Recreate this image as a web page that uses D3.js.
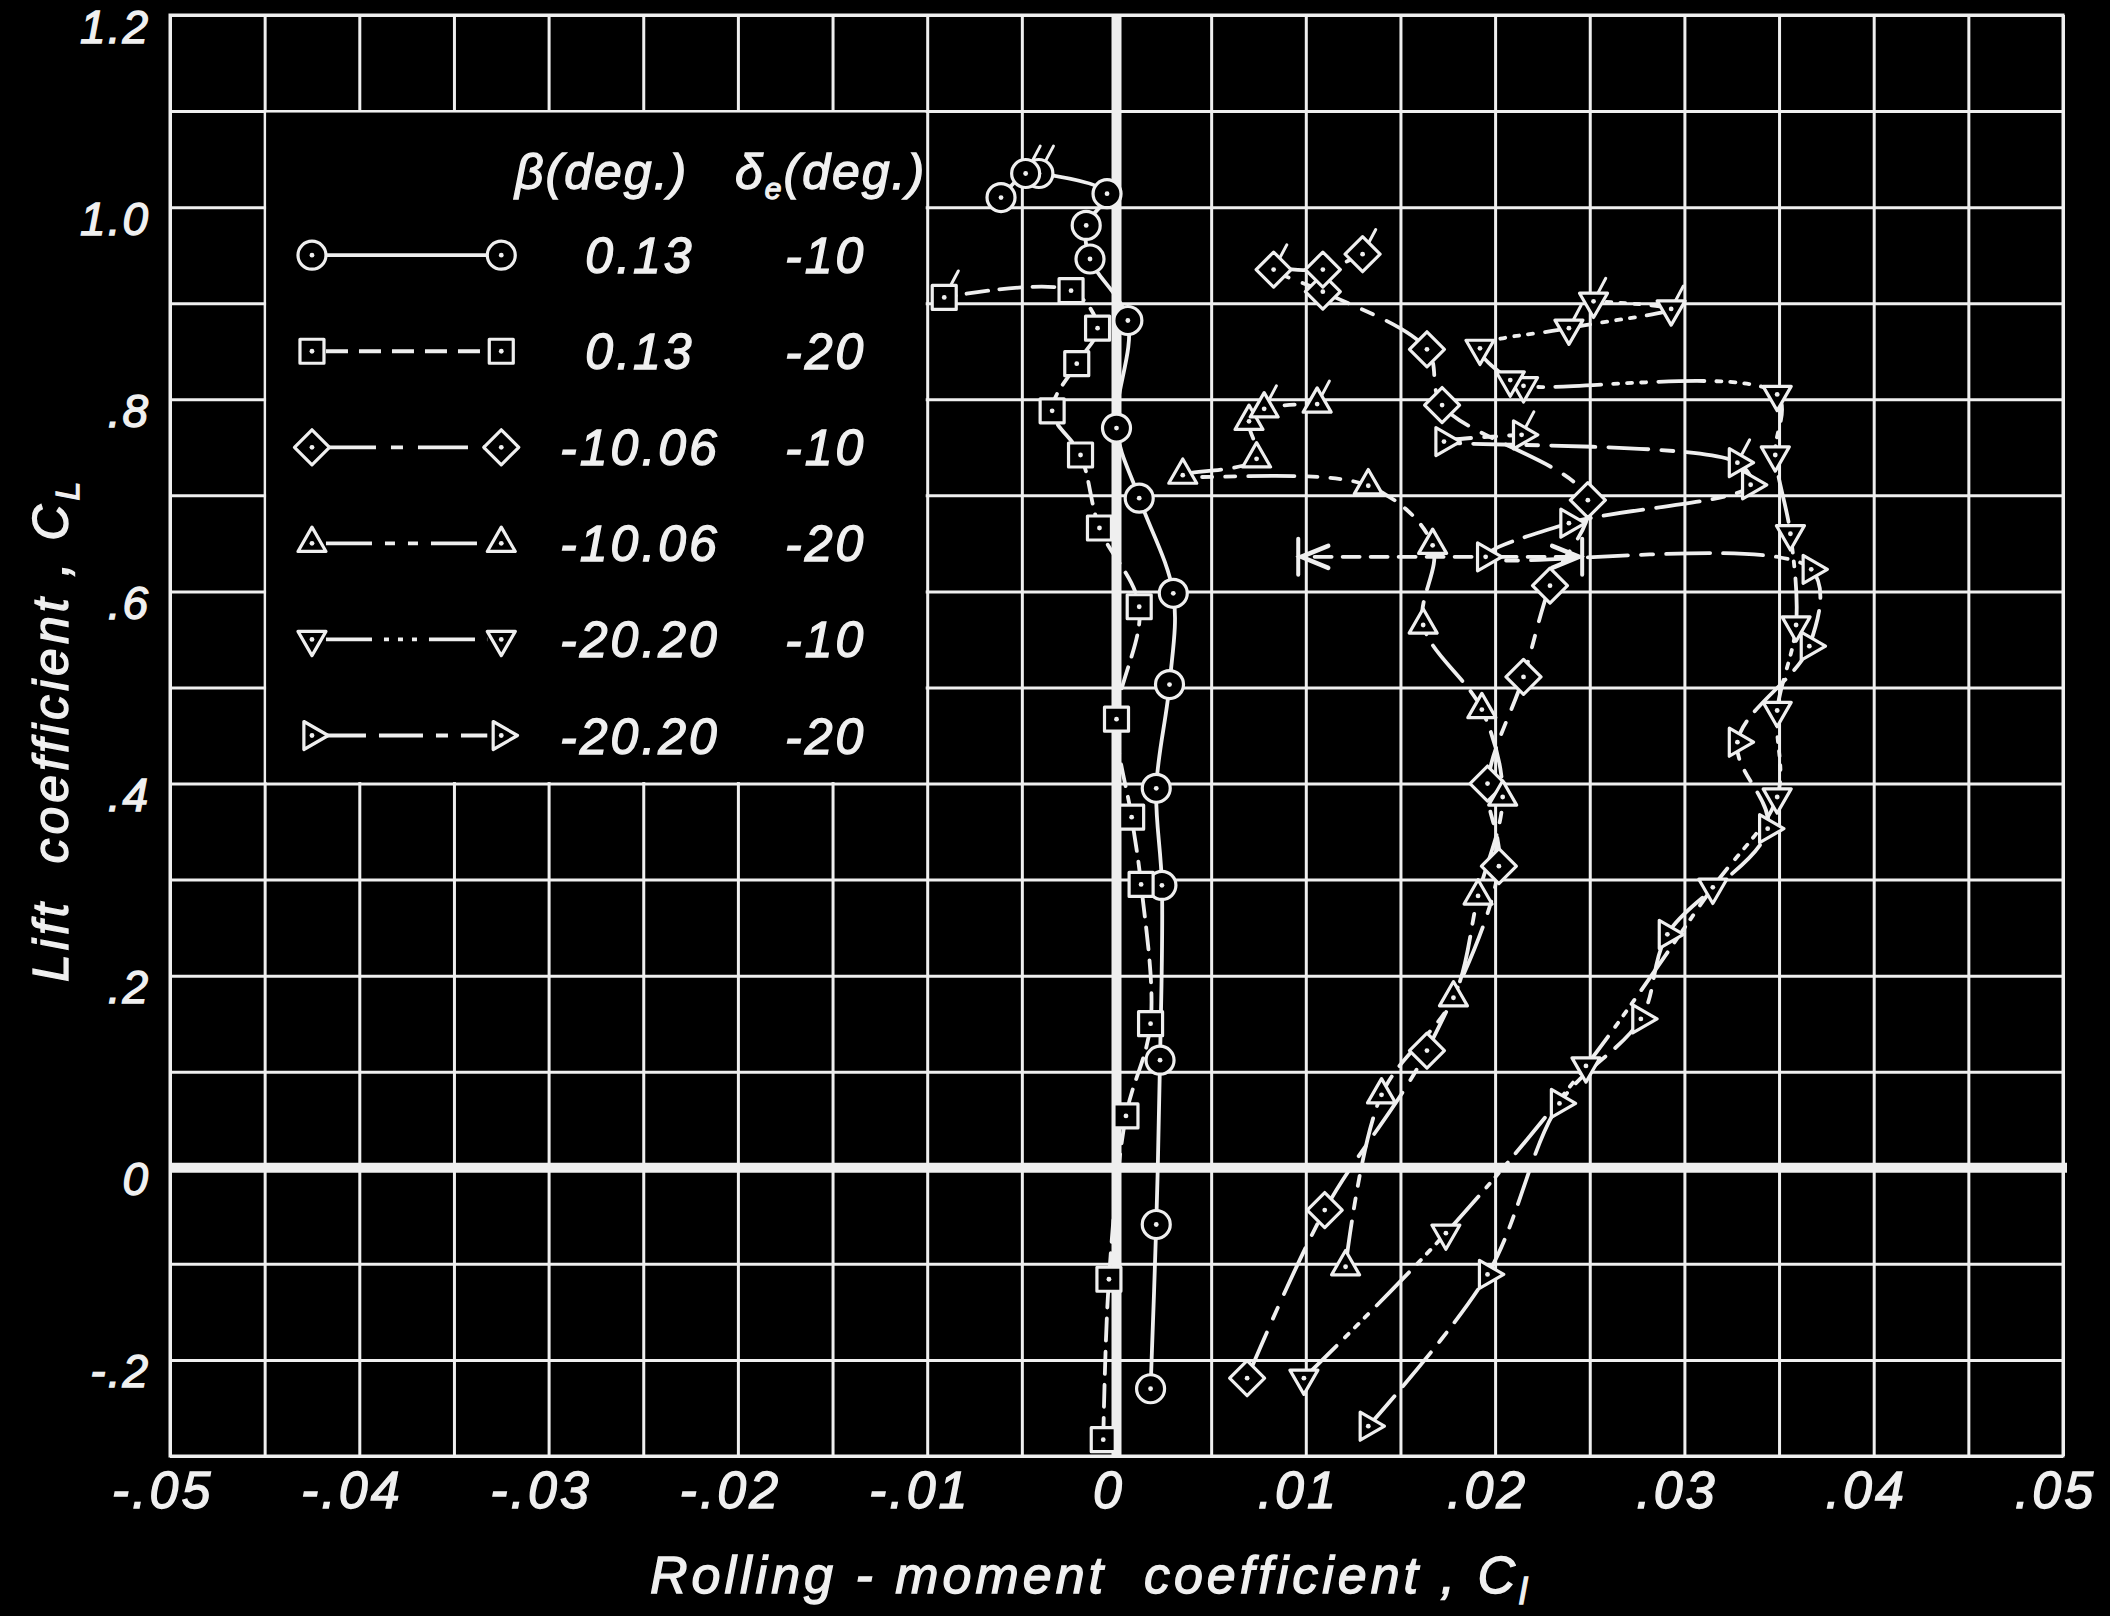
<!DOCTYPE html>
<html>
<head>
<meta charset="utf-8">
<script src="https://cdn.jsdelivr.net/npm/d3@7"></script>
<style>
  html, body { margin: 0; padding: 0; background: #000; }
  svg { display: block; }
  text { font-family: "Liberation Sans", Arial, sans-serif; font-style: italic; fill: #f0f0f0;
         stroke: #f0f0f0; stroke-width: 1.3px; }
</style>
</head>
<body>
<svg id="chart" width="2110" height="1616"></svg>
<script>
// Rolling-moment coefficient C_l (x) against lift coefficient C_L (y)
// for two sideslip angles and two elevator settings each.

// beta = 0.13 deg, delta_e = -10 deg  (circles)
const circlePts = [[0.0018,-0.230],[0.0021,-0.059],[0.0023,0.112],[0.0024,0.294],[0.0021,0.395],
  [0.0028,0.503],[0.0030,0.598],[0.0012,0.697],[0.0000,0.770],[0.0006,0.882],[-0.0014,0.946],
  [-0.0016,0.981],[-0.0005,1.014],[-0.0041,1.035],[-0.0048,1.035],[-0.0061,1.010]];
const circleFlags = [13, 14];

// beta = 0.13 deg, delta_e = -20 deg  (squares)
const squarePts = [[-0.0007,-0.283],[-0.0004,-0.116],[0.0005,0.054],[0.0018,0.150],[0.0013,0.295],
  [0.0008,0.365],[0.0000,0.467],[0.0012,0.584],[-0.0009,0.666],[-0.0019,0.742],[-0.0034,0.788],
  [-0.0021,0.837],[-0.0010,0.874],[-0.0024,0.913],[-0.0091,0.906]];
const squareFlags = [14];

// beta = -10.06 deg, delta_e = -10 deg  (diamonds)
const diamondPts = [[0.0069,-0.219],[0.0110,-0.044],[0.0164,0.122],[0.0202,0.314],[0.0196,0.400],
  [0.0215,0.511],[0.0229,0.606],[0.0249,0.695],[0.0172,0.794],[0.0164,0.852],[0.0109,0.912],
  [0.0083,0.935],[0.0109,0.935],[0.0130,0.951]];
const diamondFlags = [11, 13];

// beta = -10.06 deg, delta_e = -20 deg  (upward triangles)
const triUpPts = [[0.0121,-0.103],[0.0140,0.076],[0.0178,0.177],[0.0191,0.283],[0.0204,0.386],
  [0.0193,0.477],[0.0162,0.565],[0.0167,0.648],[0.0133,0.710],[0.0035,0.721],[0.0074,0.738],
  [0.0070,0.777],[0.0078,0.790],[0.0106,0.795]];
const triUpFlags = [12, 13];

// beta = -20.20 deg, delta_e = -10 deg  (downward triangles)
const triDownPts = [[0.0099,-0.219],[0.0174,-0.068],[0.0248,0.106],[0.0315,0.292],[0.0349,0.386],
  [0.0349,0.476],[0.0359,0.565],[0.0356,0.660],[0.0348,0.742],[0.0349,0.805],[0.0215,0.814],
  [0.0208,0.820],[0.0192,0.853],[0.0239,0.874],[0.0293,0.894],[0.0252,0.902]];
const triDownFlags = [13, 14, 15];

// beta = -20.20 deg, delta_e = -20 deg  (right-pointing triangles)
const triRightPts = [[0.0133,-0.269],[0.0196,-0.111],[0.0234,0.067],[0.0277,0.155],[0.0291,0.243],
  [0.0344,0.353],[0.0328,0.443],[0.0366,0.543],[0.0367,0.623],[0.0195,0.636],[0.0239,0.671],
  [0.0335,0.711],[0.0328,0.734],[0.0173,0.756],[0.0214,0.763]];
const triRightFlags = [12, 14];

// unsteady reading at C_L = 0.636 for the right-triangle run: limits of C_l
const rangeLift = 0.636;
const rangeFrom = 0.0195;
const rangeLow = 0.0096;
const rangeHigh = 0.0246;

// legend columns
const betaLabels = ["0.13", "0.13", "-10.06", "-10.06", "-20.20", "-20.20"];
const deltaLabels = ["-10", "-20", "-10", "-20", "-10", "-20"];
const legendRows = [0.95, 0.85, 0.75, 0.65, 0.55, 0.45];

// axes
const xTickValues = [-0.05, -0.04, -0.03, -0.02, -0.01, 0, 0.01, 0.02, 0.03, 0.04, 0.05];
const xTickLabels = ["-.05", "-.04", "-.03", "-.02", "-.01", "0", ".01", ".02", ".03", ".04", ".05"];
const yTickValues = [-0.2, 0, 0.2, 0.4, 0.6, 0.8, 1.0, 1.2];
const yTickLabels = ["-.2", "0", ".2", ".4", ".6", ".8", "1.0", "1.2"];
const xGridValues = d3.range(21).map(i => -0.05 + i * 0.005);
const yGridValues = d3.range(16).map(i => -0.3 + i * 0.1);

const ink = "#efefef";
const svg = d3.select("#chart");
svg.append("rect").attr("width", 2110).attr("height", 1616).attr("fill", "#000");

const x = d3.scaleLinear().domain([-0.05, 0.05]).range([170, 2063]);
const y = d3.scaleLinear().domain([-0.3, 1.2]).range([1456, 15]);
const plotH = y(-0.3) - y(1.2);
const plotW = x(0.05) - x(-0.05);

// ---- grid ----
const gridX = svg.append("g").attr("transform", `translate(0,${y(-0.3)})`)
  .call(d3.axisBottom(x).tickValues(xGridValues).tickSize(-plotH).tickFormat(""));
const gridY = svg.append("g").attr("transform", `translate(${x(-0.05)},0)`)
  .call(d3.axisLeft(y).tickValues(yGridValues).tickSize(-plotW).tickFormat(""));
[gridX, gridY].forEach(g => {
  g.select(".domain").remove();
  g.selectAll("line").attr("stroke", ink).attr("stroke-width", 3);
});
svg.append("rect")
  .attr("x", x(-0.05)).attr("y", y(1.2)).attr("width", plotW).attr("height", plotH)
  .attr("fill", "none").attr("stroke", ink).attr("stroke-width", 3);

// legend panel blanks the grid inside its cell block
svg.append("rect")
  .attr("x", x(-0.045) + 1.5).attr("y", y(1.1) + 1.5)
  .attr("width", x(-0.01) - x(-0.045) - 3).attr("height", y(0.4) - y(1.1) - 3)
  .attr("fill", "#000");

// heavy zero lines
svg.append("line").attr("x1", x(0)).attr("x2", x(0)).attr("y1", y(1.2)).attr("y2", y(-0.3))
  .attr("stroke", ink).attr("stroke-width", 10);
svg.append("line").attr("x1", x(-0.05)).attr("x2", x(0.05) + 4).attr("y1", y(0)).attr("y2", y(0))
  .attr("stroke", ink).attr("stroke-width", 10);

// ---- tick labels ----
const ax = svg.append("g").attr("transform", `translate(0,${y(-0.3)})`)
  .call(d3.axisBottom(x).tickValues(xTickValues).tickSize(0).tickFormat((d, i) => xTickLabels[i]));
ax.select(".domain").remove();
ax.selectAll("text").attr("y", 52).attr("dy", null).attr("dx", -8)
  .attr("fill", ink).style("font-size", "52px").style("letter-spacing", "3px")
  .attr("font-family", null).attr("font-size", null);

const ay = svg.append("g").attr("transform", `translate(150,0)`)
  .call(d3.axisLeft(y).tickValues(yTickValues).tickSize(0).tickPadding(0)
    .tickFormat((d, i) => yTickLabels[i]));
ay.select(".domain").remove();
ay.selectAll("text").attr("x", 0).attr("dy", null).attr("y", 27)
  .attr("fill", ink).style("font-size", "46px").style("letter-spacing", "2px")
  .attr("font-family", null).attr("font-size", null);

// ---- axis titles ----
const xt = svg.append("text").attr("x", 650).attr("y", 1593)
  .style("font-size", "52px").style("letter-spacing", "4px").style("white-space", "pre");
xt.append("tspan").text("Rolling - moment  coefficient , C");
xt.append("tspan").attr("dy", 11).style("font-size", "36px").text("l");

const yt = svg.append("text").attr("transform", "translate(68,982) rotate(-90)")
  .style("font-size", "50px").style("letter-spacing", "4px").style("white-space", "pre");
yt.append("tspan").text("Lift  coefficient , C");
yt.append("tspan").attr("dy", 11).style("font-size", "34px").text("L");

// ---- series ----
const lineGen = d3.line().x(d => x(d[0])).y(d => y(d[1])).curve(d3.curveCatmullRom.alpha(0.5));

const series = [
  { pts: circlePts, flags: circleFlags, shape: "circle", dash: null },
  { pts: squarePts, flags: squareFlags, shape: "square", dash: "22,11" },
  { pts: diamondPts, flags: diamondFlags, shape: "diamond", dash: "50,15,12,15" },
  { pts: triUpPts, flags: triUpFlags, shape: "triUp", dash: "46,13,10,13,10,13" },
  { pts: triDownPts, flags: triDownFlags, shape: "triDown", dash: "46,12,5,9,5,9,5,12" },
  { pts: triRightPts, flags: triRightFlags, shape: "triRight", dash: "40,13,44,13,12,13" }
];

const shapePath = {
  square: "M-12,-12H12V12H-12Z",
  diamond: "M0,-17.5L17.5,0L0,17.5L-17.5,0Z",
  triUp: "M0,-16.2L14,8.1L-14,8.1Z",
  triDown: "M0,16.2L14,-8.1L-14,-8.1Z",
  triRight: "M16.2,0L-8.1,14L-8.1,-14Z"
};
const flagStart = { circle: 14, square: 13, diamond: 11, triUp: 9, triDown: 9, triRight: 9 };

function drawSymbol(g, shape, px, py) {
  const s = g.append("g").attr("transform", `translate(${px},${py})`);
  if (shape === "circle") {
    s.append("circle").attr("r", 14);
  } else {
    s.append("path").attr("d", shapePath[shape]);
  }
  s.selectAll("circle,path").attr("fill", "#000").attr("stroke", ink).attr("stroke-width", 3.2)
    .attr("stroke-linejoin", "round");
  s.append("circle").attr("r", 2.4).attr("fill", ink);
  return s;
}

const linesG = svg.append("g");
const symG = svg.append("g");

series.forEach(sr => {
  linesG.append("path").datum(sr.pts).attr("d", lineGen)
    .attr("fill", "none").attr("stroke", ink).attr("stroke-width", 3.8)
    .attr("stroke-linecap", "round")
    .attr("stroke-dasharray", sr.dash);
  sr.pts.forEach((p, i) => {
    const px = x(p[0]), py = y(p[1]);
    if (sr.flags.includes(i)) {
      const a = -62 * Math.PI / 180, r0 = flagStart[sr.shape];
      symG.append("line")
        .attr("x1", px + r0 * Math.cos(a)).attr("y1", py + r0 * Math.sin(a))
        .attr("x2", px + (r0 + 17) * Math.cos(a)).attr("y2", py + (r0 + 17) * Math.sin(a))
        .attr("stroke", ink).attr("stroke-width", 3).attr("stroke-linecap", "round");
    }
    drawSymbol(symG, sr.shape, px, py);
  });
});

// ---- range indicator (dashed arrows with end bars) ----
const rg = svg.append("g").attr("stroke", ink).attr("stroke-width", 3.8).attr("fill", "none")
  .attr("stroke-linecap", "round");
const ry = y(rangeLift);
[[rangeFrom, rangeLow], [rangeFrom, rangeHigh]].forEach(([a, b]) => {
  const dir = Math.sign(b - a);
  const xa = x(a) + dir * 14, xb = x(b);
  rg.append("line").attr("x1", xa).attr("x2", xb - dir * 4).attr("y1", ry).attr("y2", ry)
    .attr("stroke-dasharray", "17,11");
  rg.append("path")
    .attr("d", `M${xb - dir * 30},${ry - 11}L${xb - dir * 3},${ry}L${xb - dir * 30},${ry + 11}`)
    .attr("stroke-width", 4.5);
  rg.append("line").attr("x1", xb).attr("x2", xb).attr("y1", ry - 18).attr("y2", ry + 18)
    .attr("stroke-width", 4);
});
symG.raise();

// ---- legend ----
const lg = svg.append("g");
const legendStyle = series.map(s => ({ shape: s.shape, dash: s.dash }));
const lx1 = x(-0.0425), lx2 = x(-0.0325);
legendRows.forEach((row, i) => {
  const ly = y(row);
  lg.append("line").attr("x1", lx1 + 14).attr("x2", lx2 - 14).attr("y1", ly).attr("y2", ly)
    .attr("stroke", ink).attr("stroke-width", 3.8).attr("stroke-dasharray", legendStyle[i].dash);
  drawSymbol(lg, legendStyle[i].shape, lx1, ly);
  drawSymbol(lg, legendStyle[i].shape, lx2, ly);
  lg.append("text").attr("x", 640).attr("y", ly + 18).attr("text-anchor", "middle")
    .style("font-size", "50px").style("letter-spacing", "3px").text(betaLabels[i]);
  lg.append("text").attr("x", 785).attr("y", ly + 18).attr("text-anchor", "start")
    .style("font-size", "50px").style("letter-spacing", "3px").text(deltaLabels[i]);
});
const hy = y(1.038) + 18;
lg.append("text").attr("x", 515).attr("y", hy).style("font-size", "50px")
  .style("letter-spacing", "2px").text("β(deg.)");
const dh = lg.append("text").attr("x", 735).attr("y", hy).style("font-size", "50px")
  .style("letter-spacing", "2px");
dh.append("tspan").text("δ");
dh.append("tspan").attr("dy", 10).style("font-size", "30px").text("e");
dh.append("tspan").attr("dy", -10).text("(deg.)");
</script>
</body>
</html>
